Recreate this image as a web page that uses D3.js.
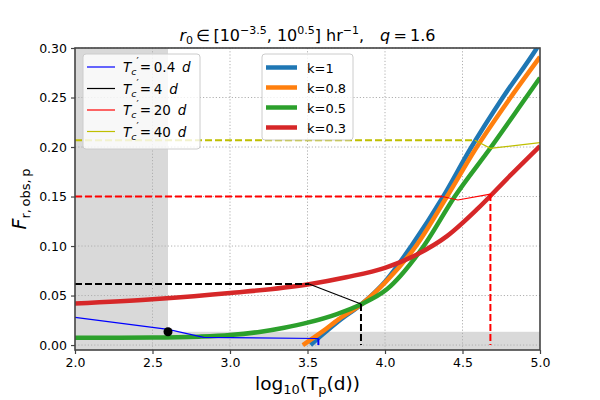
<!DOCTYPE html>
<html>
<head>
<meta charset="utf-8">
<script src="https://cdn.jsdelivr.net/npm/d3@7"></script>
<style>
  body { margin: 0; background: #fff; }
  svg { font-family: "DejaVu Sans", sans-serif; }
</style>
</head>
<body>
<svg id="chart" width="600" height="400"></svg>
<script>
// ---- data ----
const xTicks = [2.0, 2.5, 3.0, 3.5, 4.0, 4.5, 5.0];
const yTicks = [0.00, 0.05, 0.10, 0.15, 0.20, 0.25, 0.30];

// thick curves: [log10(Tp), F]
const kLabels = ["k=1", "k=0.8", "k=0.5", "k=0.3"];
const curveK1 = [[3.52,0],[3.6,0.011],[3.7,0.024],[3.85,0.0414],[4.0,0.064],[4.17,0.1],[4.376,0.15],[4.55,0.198],[4.76,0.25],[4.98,0.30],[5.0,0.305]];
const curveK08 = [[3.47,0],[3.6,0.014],[3.7,0.026],[3.85,0.0414],[4.0,0.063],[4.2,0.1],[4.40,0.15],[4.58,0.197],[4.81,0.25],[5.0,0.291]];
const curveK05 = [[2.0,0.0074],[2.5,0.0076],[2.8,0.0085],[3.0,0.0101],[3.2,0.0135],[3.35,0.0175],[3.5,0.0226],[3.69,0.0313],[3.85,0.0414],[4.01,0.056],[4.25,0.1],[4.45,0.15],[4.68,0.199],[4.91,0.25],[5.0,0.27]];
const curveK03 = [[2.0,0.042],[2.5,0.0463],[3.0,0.0525],[3.5,0.0612],[3.75,0.0685],[4.0,0.078],[4.2,0.091],[4.4,0.11],[4.6,0.138],[4.8,0.17],[5.0,0.201]];

// thin T'_c lines
const tcLabels = ["0.4", "4", "20", "40"];
const tc04Solid = [[2.0,0.028],[2.6,0.0158],[2.83,0.0078],[3.57,0.0066]];
const tc04Dash = [[3.57,0.0066],[3.57,0]];
const tc4Dash = [[2.0,0.0616],[3.51,0.0616]];
const tc4Solid = [[3.51,0.0616],[3.845,0.0414]];
const tc4Drop = [[3.845,0.0414],[3.845,0]];
const tc20Dash = [[2.0,0.15],[4.37,0.15]];
const tc20Solid = [[4.37,0.15],[4.47,0.1465],[4.68,0.1525]];
const tc20Drop = [[4.68,0.1525],[4.68,0]];
const tc40Dash = [[2.0,0.2068],[4.58,0.2068]];
const tc40Solid = [[4.58,0.2068],[4.68,0.1987],[5.0,0.2044]];

// marked point / shaded limits
const markPoint = [2.6, 0.0134];

// ---- layout ----
const svg = d3.select("#chart");
const pLeft = 75, pRight = 540, pTop = 48, pBottom = 350;

const x = d3.scaleLinear().domain([2, 5]).range([pLeft, pRight]);
const y = d3.scaleLinear().domain([-0.005, 0.30]).range([pBottom, pTop]);

const kColors = ["#1f77b4", "#ff7f0e", "#2ca02c", "#d62728"];
const tcColors = ["#0000ff", "#000000", "#ff0000", "#bfbf00"];

svg.append("defs").append("clipPath").attr("id", "plotclip")
  .append("rect").attr("x", pLeft).attr("y", pTop)
  .attr("width", pRight - pLeft).attr("height", pBottom - pTop);

// shaded regions
const shade = svg.append("g").attr("fill", "#d9d9d9");
shade.append("rect")
  .attr("x", x(2)).attr("y", pTop)
  .attr("width", x(markPoint[0]) - x(2)).attr("height", pBottom - pTop);
shade.append("rect")
  .attr("x", pLeft).attr("y", y(markPoint[1]))
  .attr("width", pRight - pLeft).attr("height", pBottom - y(markPoint[1]));

// grid
const grid = svg.append("g")
  .attr("stroke", "#b0b0b0").attr("stroke-width", 1).attr("stroke-dasharray", "1.2,2");
grid.selectAll(".gx").data(xTicks.slice(1, -1)).join("line")
  .attr("x1", d => x(d)).attr("x2", d => x(d)).attr("y1", pTop).attr("y2", pBottom);
grid.selectAll(".gy").data(yTicks).join("line")
  .attr("y1", d => y(d)).attr("y2", d => y(d)).attr("x1", pLeft).attr("x2", pRight);

const line = d3.line().x(d => x(d[0])).y(d => y(d[1]));
const smooth = d3.line().x(d => x(d[0])).y(d => y(d[1])).curve(d3.curveMonotoneX);
const plot = svg.append("g").attr("clip-path", "url(#plotclip)");

// thick k curves
[curveK1, curveK08, curveK05, curveK03].forEach((c, i) => {
  plot.append("path").datum(c)
    .attr("d", smooth)
    .attr("fill", "none")
    .attr("stroke", kColors[i])
    .attr("stroke-width", 4.5)
    .attr("stroke-linejoin", "round");
});

// thin lines
function thin(data, color, dashed) {
  plot.append("path").datum(data)
    .attr("d", line)
    .attr("fill", "none")
    .attr("stroke", color)
    .attr("stroke-width", dashed ? 2 : 1.2)
    .attr("stroke-dasharray", dashed ? "7,3" : null);
}
thin(tc04Solid, tcColors[0], false);
thin(tc04Dash, tcColors[0], true);
thin(tc4Dash, tcColors[1], true);
thin(tc4Solid, tcColors[1], false);
thin(tc4Drop, tcColors[1], true);
thin(tc20Dash, tcColors[2], true);
thin(tc20Solid, tcColors[2], false);
thin(tc20Drop, tcColors[2], true);
thin(tc40Dash, tcColors[3], true);
thin(tc40Solid, tcColors[3], false);

plot.append("circle")
  .attr("cx", x(markPoint[0])).attr("cy", y(markPoint[1]))
  .attr("r", 4.5).attr("fill", "#000");

// frame
svg.append("rect")
  .attr("x", pLeft).attr("y", pTop)
  .attr("width", pRight - pLeft).attr("height", pBottom - pTop)
  .attr("fill", "none").attr("stroke", "#444").attr("stroke-width", 1.6);

// axes
const xAxis = svg.append("g")
  .attr("transform", `translate(0,${pBottom})`)
  .call(d3.axisBottom(x).tickValues(xTicks).tickFormat(d3.format(".1f")).tickSize(4).tickPadding(4));
const yAxis = svg.append("g")
  .attr("transform", `translate(${pLeft},0)`)
  .call(d3.axisLeft(y).tickValues(yTicks).tickFormat(d3.format(".2f")).tickSize(4).tickPadding(4));
[xAxis, yAxis].forEach(a => {
  a.select(".domain").remove();
  a.selectAll("line").attr("stroke", "#444").attr("stroke-width", 1.2);
  a.selectAll("text").attr("font-size", 12.5).attr("fill", "#000")
    .attr("font-family", "DejaVu Sans");
});

// title
const title = svg.append("text")
  .attr("x", (pLeft + pRight) / 2).attr("y", 41)
  .attr("text-anchor", "middle").attr("font-size", 16);
title.append("tspan").attr("font-style", "italic").text("r");
title.append("tspan").attr("font-size", 11).attr("dy", 3).text("0");
title.append("tspan").attr("dy", -3).text("\u2009\u2208\u2009[10");
title.append("tspan").attr("font-size", 11).attr("dy", -7).text("\u22123.5");
title.append("tspan").attr("dy", 7).text(", 10");
title.append("tspan").attr("font-size", 11).attr("dy", -7).text("0.5");
title.append("tspan").attr("dy", 7).text("] hr");
title.append("tspan").attr("font-size", 11).attr("dy", -7).text("\u22121");
title.append("tspan").attr("dy", 7).text(",\u2002\u2002");
title.append("tspan").attr("font-style", "italic").text("q");
title.append("tspan").text("\u2009=\u20091.6");

// x label
const xl = svg.append("text")
  .attr("x", (pLeft + pRight) / 2).attr("y", 390)
  .attr("text-anchor", "middle").attr("font-size", 18.5);
xl.append("tspan").text("log");
xl.append("tspan").attr("font-size", 13).attr("dy", 4).text("10");
xl.append("tspan").attr("dy", -4).text("(T");
xl.append("tspan").attr("font-size", 13).attr("dy", 4).text("p");
xl.append("tspan").attr("dy", -4).text("(d))");

// y label
const yl = svg.append("text")
  .attr("transform", `translate(26,${(pTop + pBottom) / 2}) rotate(-90)`)
  .attr("text-anchor", "middle").attr("font-size", 19);
yl.append("tspan").attr("font-style", "italic").text("F");
yl.append("tspan").attr("font-size", 13).attr("dy", 4).text("r,\u2009obs,\u2009p");

// legend 1: T'_c
const leg1 = svg.append("g");
leg1.append("rect")
  .attr("x", 83).attr("y", 54).attr("width", 117).attr("height", 95).attr("rx", 3)
  .attr("fill", "#fff").attr("fill-opacity", 0.8).attr("stroke", "#cccccc");
tcLabels.forEach((lab, i) => {
  const ry = 67 + i * 21.5;
  leg1.append("line")
    .attr("x1", 87).attr("x2", 115).attr("y1", ry).attr("y2", ry)
    .attr("stroke", tcColors[i]).attr("stroke-width", 1.2);
  const t = leg1.append("text").attr("x", 123).attr("y", ry + 5).attr("font-size", 13.5);
  t.append("tspan").attr("font-style", "italic").text("T");
  t.append("tspan").attr("font-style", "italic").attr("font-size", 9.5).attr("dy", 3).text("c");
  t.append("tspan").attr("font-size", 10).attr("dy", -10).text("\u2032");
  t.append("tspan").attr("dy", 7).attr("dx", 1).text("=\u2009" + lab + "\u2002");
  t.append("tspan").attr("font-style", "italic").text("d");
});

// legend 2: k
const leg2 = svg.append("g");
leg2.append("rect")
  .attr("x", 262).attr("y", 54).attr("width", 91).attr("height", 86).attr("rx", 3)
  .attr("fill", "#fff").attr("fill-opacity", 0.8).attr("stroke", "#cccccc");
kLabels.forEach((lab, i) => {
  const ry = 67.5 + i * 20;
  leg2.append("line")
    .attr("x1", 266).attr("x2", 297).attr("y1", ry).attr("y2", ry)
    .attr("stroke", kColors[i]).attr("stroke-width", 4.5);
  leg2.append("text").attr("x", 307).attr("y", ry + 5).attr("font-size", 13).text(lab);
});
</script>
</body>
</html>
